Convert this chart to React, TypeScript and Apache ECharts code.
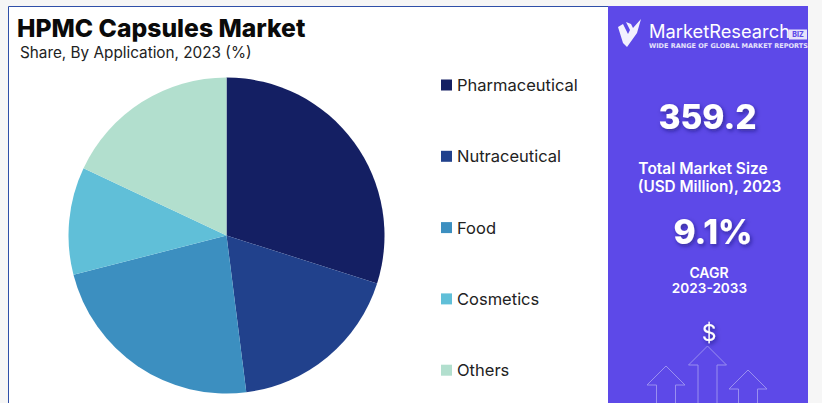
import React, { useEffect, useRef } from "react";
import * as echarts from "echarts";

const categories = ["Pharmaceutical", "Nutraceutical", "Food", "Cosmetics", "Others"];
const shares = [29.9, 18.1, 23.0, 11.0, 18.0];
const colors = ["#141f63", "#21418c", "#3c8fc0", "#60bfd8", "#b2dfce"];
const titleText = "HPMC Capsules Market";
const subtitleText = "Share, By Application, 2023 (%)";
const marketSize = "359.2";
const marketLabel = ["Total Market Size", "(USD Million), 2023"];
const cagrValue = "9.1%";
const cagrLabel = ["CAGR", "2023-2033"];

const FONT = "Inter, 'Noto Sans', sans-serif";
const PURPLE = "#5d49e8";

echarts.graphic.registerShape(
  "mrLogo",
  echarts.graphic.extendPath("M0 8L5 5L10 15L12 11L8 3L13 5L15 9L23 0L19 14L9 28L5 24Z", {}) as any,
);

const txt = (x: number, y: number, text: string, font: any, extra: any = {}) => ({
  type: "text", x, y, z: 10, silent: true,
  style: { text, fontFamily: FONT, fill: "#fff", textAlign: "center", textVerticalAlign: "middle", ...font, ...extra },
});
const arrow = (cx: number, top: number, bottom: number) => ({
  type: "polyline", z: 10, silent: true,
  shape: { points: [
    [cx - 9.5, bottom], [cx - 9.5, top + 19], [cx - 19, top + 19], [cx, top],
    [cx + 19, top + 19], [cx + 9.5, top + 19], [cx + 9.5, bottom],
  ] },
  style: { stroke: "#9a8ff0", lineWidth: 1, fill: "none" },
});
const shadow = { textShadowColor: "rgba(20,10,90,0.55)", textShadowBlur: 4, textShadowOffsetX: 1.5, textShadowOffsetY: 2 };

export default function App() {
  const ref = useRef<HTMLDivElement>(null);
  useEffect(() => {
    document.body.style.margin = "0";
    document.body.style.overflow = "hidden";
    const chart = echarts.init(ref.current!, undefined, { renderer: "svg" });
    chart.setOption({
      animation: false,
      backgroundColor: "#f6f6f6",
      color: colors,
      legend: {
        orient: "vertical", left: 436, top: 71, itemWidth: 11, itemHeight: 11, itemGap: 53.3,
        icon: "rect", data: categories, selectedMode: false,
        textStyle: { fontFamily: FONT, fontSize: 16.5, color: "#222", padding: [0, 0, 0, 0], lineHeight: 18 },
      },
      series: [{
        type: "pie", center: [226.5, 235.5], radius: [0, 158], startAngle: 90, clockwise: true,
        label: { show: false }, labelLine: { show: false }, silent: true,
        itemStyle: { borderWidth: 0 },
        data: categories.map((name, i) => ({ name, value: shares[i] })),
      }],
      graphic: [
        { type: "rect", z: -1, silent: true, shape: { x: 8.5, y: 6.5, width: 600, height: 400 }, style: { fill: "#fff", stroke: "#2f4fa8", lineWidth: 1 } },
        { type: "rect", z: 0, silent: true, shape: { x: 608, y: 6, width: 200, height: 400 }, style: { fill: PURPLE } },
        { type: "text", x: 17, y: 28, z: 10, silent: true, style: { text: titleText, fontFamily: FONT, fontSize: 24.7, fontWeight: 800, fill: "#0a0a0a", textVerticalAlign: "middle" } },
        { type: "text", x: 20, y: 52, z: 10, silent: true, style: { text: subtitleText, fontFamily: FONT, fontSize: 15.3, fill: "#222", textVerticalAlign: "middle" } },
        { type: "mrLogo", x: 618, y: 19, z: 10, silent: true, style: { fill: "#fff", opacity: 0.92 } },
        txt(649, 31, "MarketResearch", { fontSize: 18.3, fontWeight: 400, textAlign: "left" }),
        { type: "rect", z: 10, silent: true, shape: { x: 789, y: 29.5, width: 18, height: 10 }, style: { fill: "#e6e3fb" } },
        txt(798, 34.5, "BIZ", { fontSize: 7, fontWeight: 800, fill: PURPLE }),
        txt(649, 46, "WIDE RANGE OF GLOBAL MARKET REPORTS", { fontFamily: "'DejaVu Sans', sans-serif", fontSize: 6.5, fontWeight: 700, textAlign: "left", fill: "#e6e3fb" }),
        txt(707.5, 117, marketSize, { fontSize: 33.5, fontWeight: 800 }, shadow),
        txt(703, 168, marketLabel[0], { fontSize: 15.5, fontWeight: 600 }),
        txt(709.5, 186, marketLabel[1], { fontSize: 15.3, fontWeight: 600 }),
        txt(713, 232, cagrValue, { fontSize: 33.5, fontWeight: 800 }, shadow),
        txt(709, 272, cagrLabel[0], { fontSize: 14, fontWeight: 600 }),
        txt(709.5, 288, cagrLabel[1], { fontSize: 13.6, fontWeight: 600 }),
        txt(709, 333, "$", { fontSize: 23, fontWeight: 400 }, shadow),
        arrow(666, 366, 404),
        arrow(707.5, 346, 404),
        arrow(748, 370, 404),
      ],
    });
    return () => chart.dispose();
  }, []);
  return <div ref={ref} style={{ width: 822, height: 403 }} />;
}
